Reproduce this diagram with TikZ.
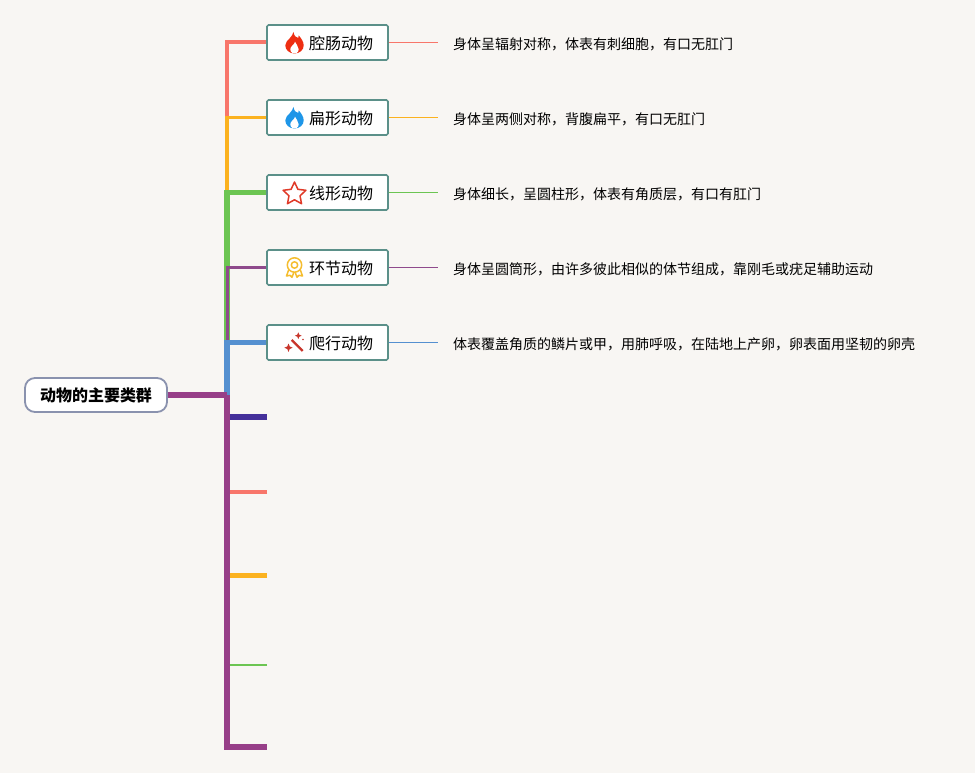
\documentclass[tikz,border=0pt]{standalone}
\usepackage{fontspec}
\setmainfont{Noto Sans CJK SC}
\definecolor{bgc}{HTML}{F8F6F3}
\definecolor{cred}{HTML}{F8766A}
\definecolor{cora}{HTML}{FBB21F}
\definecolor{cgrn}{HTML}{6CC552}
\definecolor{cpur}{HTML}{8F4A8C}
\definecolor{cblu}{HTML}{5590D0}
\definecolor{cmag}{HTML}{973F88}
\definecolor{cind}{HTML}{45309A}
\definecolor{cbox}{HTML}{5B9089}
\definecolor{croot}{HTML}{8A92AE}
\definecolor{iconred}{HTML}{EE2E12}
\definecolor{iconblue}{HTML}{1E96E8}
\definecolor{iconstar}{HTML}{E03A28}
\definecolor{icongold}{HTML}{F5BD2F}
\definecolor{iconwand}{HTML}{C8352B}
\newcommand{\flameicon}[3]{%
 \begin{scope}[shift={(#1,#2)}]
 \fill[#3] (-1,-11) .. controls (-0.5,-7) and (1.5,-5.5) .. (3.7,-5) .. controls (4.2,-6) and (4.2,-7) .. (4.2,-7.5) .. controls (7,-4.5) and (9.2,-1) .. (9.2,2.5) .. controls (9.2,7) and (5,10.5) .. (0,10.5) .. controls (-5,10.5) and (-9.2,7) .. (-9.2,2.5) .. controls (-9.2,-1) and (-7,-2) .. (-5,-4.5) .. controls (-3,-7) and (-1.5,-8.5) .. (-1,-11) -- cycle;
 \fill[white] (0.5,-1.3) .. controls (1,1) and (4.2,3) .. (4.2,6.3) .. controls (4.2,8) and (3.5,9.4) .. (2,10) -- (-2,10) .. controls (-3.5,9.4) and (-4.2,8) .. (-4.2,6.3) .. controls (-4.2,3) and (0,2) .. (0.5,-1.3) -- cycle;
 \end{scope}}
\newcommand{\sparkleicon}[3]{%
 \fill[iconwand] (#1,#2-#3) -- (#1+0.3*#3,#2-0.3*#3) -- (#1+#3,#2) -- (#1+0.3*#3,#2+0.3*#3) -- (#1,#2+#3) -- (#1-0.3*#3,#2+0.3*#3) -- (#1-#3,#2) -- (#1-0.3*#3,#2-0.3*#3) -- cycle;}
\tikzset{
  x=1pt,y=-1pt,
  topic/.style={draw=cbox,line width=1.6pt,fill=white,rounded corners=1.5pt,minimum width=121pt,minimum height=35pt,inner sep=0pt},
  rootnode/.style={draw=croot,line width=1.8pt,fill=white,rounded corners=10pt,minimum width=142pt,minimum height=34pt,inner sep=0pt,font=\bfseries\fontsize{16}{16}\selectfont},
  desc/.style={anchor=west,inner sep=0pt,font=\fontsize{14}{14}\selectfont},
  lbl/.style={anchor=west,inner sep=0pt,font=\fontsize{16}{16}\selectfont},
  trunk/.style={shorten <=-2.4pt},
}
\begin{document}
\begin{tikzpicture}
\useasboundingbox (0,0) rectangle (975,773);
\fill[bgc] (0,0) rectangle (975,773);
\node[rootnode] (root) at (96,395) {动物的主要类群};
\coordinate (j) at (227,395);
\coordinate (e1) at (267,417);
\coordinate (e2) at (267,492);
\coordinate (e3) at (267,575);
\coordinate (e4) at (267,665);
\coordinate (e5) at (267,747);
\node[topic] (t1) at (327.5,42.5) {};
\node[topic] (t2) at (327.5,117.5) {};
\node[topic] (t3) at (327.5,192.5) {};
\node[topic] (t4) at (327.5,267.5) {};
\node[topic] (t5) at (327.5,342.5) {};
\coordinate (d1) at (438,42.5);
\coordinate (d2) at (438,117.5);
\coordinate (d3) at (438,192.5);
\coordinate (d4) at (438,267.5);
\coordinate (d5) at (438,342.5);
\draw[cred,line width=4pt] (t1.west) -| (j);
\draw[cora,line width=3pt] (t2.west) -- (j |- t2.west);
\draw[cora,line width=3.6pt,shorten <=-1.5pt] (j |- t2.west) -- (j);
\draw[cgrn,line width=5pt] (t3.west) -- (j |- t3.west);
\draw[cgrn,line width=6pt,trunk] (j |- t3.west) -- (j);
\draw[cpur,line width=3pt] (t4.west) -| (j);
\draw[cblu,line width=4.5pt] (t5.west) -- (j |- t5.west);
\draw[cblu,line width=6pt,shorten <=-2.2pt] (j |- t5.west) -- (j);
\draw[cind,line width=6pt] (e1) -- (j |- e1);
\draw[cred,line width=4pt] (e2) -- (j |- e2);
\draw[cora,line width=5pt] (e3) -- (j |- e3);
\draw[cgrn,line width=2pt] (e4) -- (j |- e4);
\draw[cmag,line width=6pt] (root.east) -- (j);
\draw[cmag,line width=6pt] (j) |- (e5);
\draw[cred,line width=.9pt] (t1.east) -- (d1);
\draw[cora,line width=1.2pt] (t2.east) -- (d2);
\draw[cgrn,line width=.9pt] (t3.east) -- (d3);
\draw[cpur,line width=.9pt] (t4.east) -- (d4);
\draw[cblu,line width=.9pt] (t5.east) -- (d5);
\node[lbl] (l1) at (309,43) {腔肠动物};
\node[lbl] (l2) at (309,118) {扁形动物};
\node[lbl] (l3) at (309,193) {线形动物};
\node[lbl] (l4) at (309,268) {环节动物};
\node[lbl] (l5) at (309,343) {爬行动物};
\node[desc] (x1) at (453,44.7) {身体呈辐射对称，体表有刺细胞，有口无肛门};
\node[desc] (x2) at (453,119.7) {身体呈两侧对称，背腹扁平，有口无肛门};
\node[desc] (x3) at (453,194.7) {身体细长，呈圆柱形，体表有角质层，有口有肛门};
\node[desc] (x4) at (453,269.7) {身体呈圆筒形，由许多彼此相似的体节组成，靠刚毛或疣足辅助运动};
\node[desc] (x5) at (453,344.2) {体表覆盖角质的鳞片或甲，用肺呼吸，在陆地上产卵，卵表面用坚韧的卵壳};
% icons
\flameicon{294.5}{43}{iconred}
\flameicon{294.5}{118}{iconblue}
\begin{scope}[shift={(294.5,194)}]
\draw[iconstar,line width=1.5pt,line join=round] (-90:12) -- (-54:5.8) -- (-18:12) -- (18:5.8) -- (54:12) -- (90:5.8) -- (126:12) -- (162:5.8) -- (198:12) -- (234:5.8) -- cycle;
\end{scope}
\begin{scope}[shift={(294.5,265)},icongold,line width=1.5pt,line join=round]
\draw[fill=white] (-5.5,4) -- (-8,11) -- (-4.5,10.3) -- (-2.5,12.3) -- (-0.5,7);
\draw[fill=white] (5.5,4) -- (8,11) -- (4.5,10.3) -- (2.5,12.3) -- (0.5,7);
\draw[fill=white] (0,0) circle (7.2);
\draw (0,0) circle (3.2);
\end{scope}
\draw[iconwand,line width=2.4pt] (291.7,340) -- (302.7,351);
\sparkleicon{288.5}{347.7}{4.2}
\sparkleicon{298.3}{335.7}{3.4}
\fill[iconwand] (303,339.5) circle (0.8);
\end{tikzpicture}
\end{document}
